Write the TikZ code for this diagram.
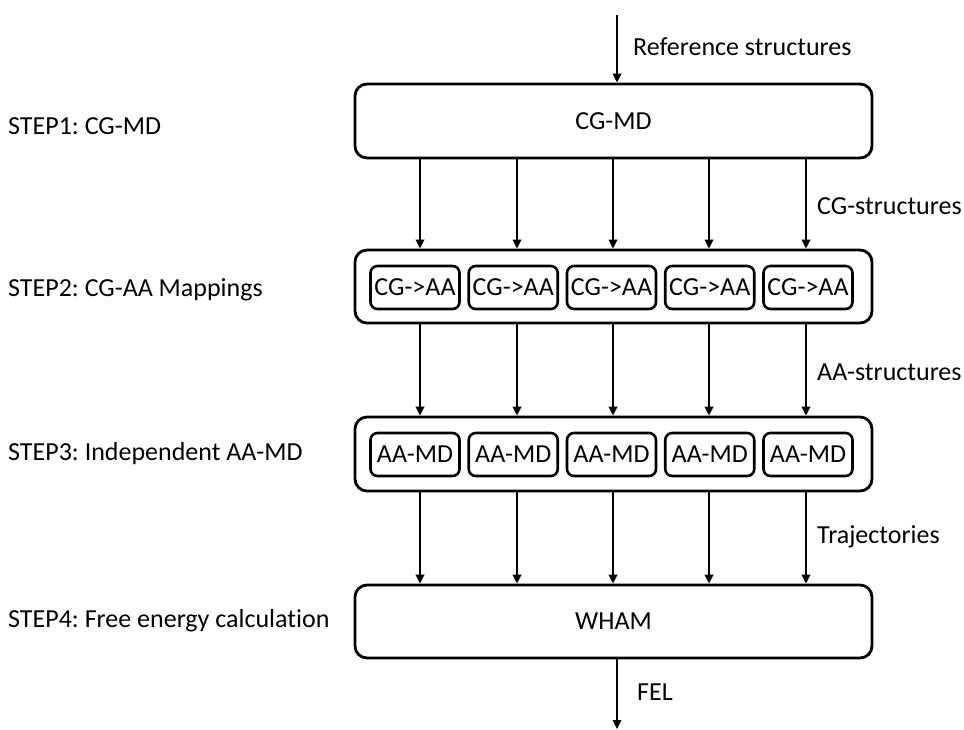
\documentclass[tikz,border=0pt]{standalone}
\usepackage{fontspec}
\setmainfont{Carlito}[Ligatures={NoCommon}]
\usetikzlibrary{arrows.meta}
\begin{document}
\frenchspacing
\begin{tikzpicture}[x=1pt,y=-1pt,
  bigbox/.style={draw, line width=2.8pt, rounded corners=12pt, minimum width=517pt, inner sep=0pt, font=\fontsize{26}{30}\selectfont},
  smallbox/.style={draw, line width=2.6pt, rounded corners=7pt, minimum width=89pt, minimum height=43pt, inner sep=0pt, font=\fontsize{26}{30}\selectfont},
  lbl/.style={anchor=west, inner sep=0pt, font=\fontsize{26}{30}\selectfont},
  arr/.style={line width=2.1pt, -{Triangle[length=9pt,width=8.5pt]}}]
\useasboundingbox (0,0) rectangle (964,729);
% main boxes
\node[bigbox, minimum height=74pt] (cgmd) at (613.5,121) {CG-MD};
\node[bigbox, minimum height=73pt] (map) at (613.5,286.5) {};
\node[bigbox, minimum height=74pt] (md) at (613.5,454) {};
\node[bigbox, minimum height=73pt] (wham) at (613.5,621.5) {WHAM};
% inner boxes
\foreach \i in {1,...,5}{
  \node[smallbox] (m\i) at ({415+98.25*(\i-1)},287.5) {CG->AA};
  \node[smallbox] (a\i) at ({415+98.25*(\i-1)},454.5) {AA-MD};
}
% step labels
\node[lbl] (s1) at (8,126) {STEP1: CG-MD};
\node[lbl] (s2) at (8,290) {STEP2: CG-AA Mappings};
\node[lbl] (s3) at (8,454) {STEP3: Independent AA-MD};
\node[lbl] (s4) at (8,621) {STEP4: Free energy calculation};
% arrow columns
\foreach \i/\x in {1/420,2/517,3/613,4/709,5/806}{
  \coordinate (c\i) at (\x,0);
  \draw[arr] (cgmd.south -| c\i) -- (map.north -| c\i);
  \draw[arr] (map.south -| c\i) -- (md.north -| c\i);
  \draw[arr] (md.south -| c\i) -- (wham.north -| c\i);
}
% input / output
\coordinate (in) at (617,15);
\coordinate (out) at (617,729);
\draw[arr] (in) -- (cgmd.north -| in);
\draw[arr] (wham.south -| out) -- (out);
% flow labels
\node[lbl] (lref) at (633,47) {Reference structures};
\node[lbl] (lcg) at (817,206) {CG-structures};
\node[lbl] (laa) at (817,372) {AA-structures};
\node[lbl] (ltr) at (817,537) {Trajectories};
\node[lbl] (lfel) at (637,692) {FEL};
\end{tikzpicture}
\end{document}
